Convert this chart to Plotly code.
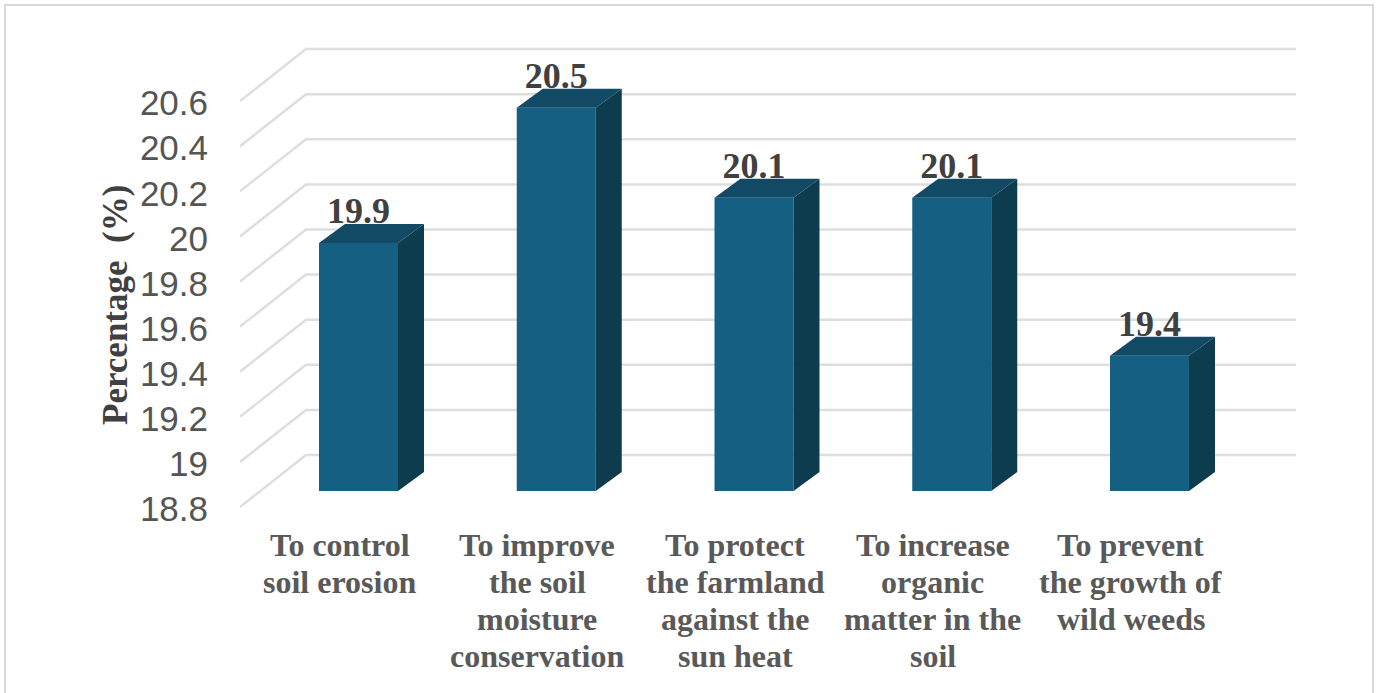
import plotly.graph_objects as go

categories = [
    ["To control", "soil erosion"],
    ["To improve", "the soil", "moisture", "conservation"],
    ["To protect", "the farmland", "against the", "sun heat"],
    ["To increase", "organic", "matter in the", "soil"],
    ["To prevent", "the growth of", "wild weeds"],
]
values = [19.9, 20.5, 20.1, 20.1, 19.4]
value_labels = ["19.9", "20.5", "20.1", "20.1", "19.4"]
y_ticks = [18.8, 19.0, 19.2, 19.4, 19.6, 19.8, 20.0, 20.2, 20.4, 20.6]
y_tick_labels = ["18.8", "19", "19.2", "19.4", "19.6", "19.8", "20", "20.2", "20.4", "20.6"]

W, H = 1380, 693
L, R, T, B = 240, 1296, 47, 527        # plot box in pixels
FLOOR_PX = 507                         # pixel of the front floor edge
PX_X = 197.75                          # pixels per category
PX_Y = 225.5                           # pixels per percentage unit
X0 = 358.5                             # pixel centre of the first bar
FLOOR = 18.8
BAR_W = 79 / PX_X
DEPTH_X, DEPTH_Y = 26 / PX_X, 19 / PX_Y
WALL_X, WALL_Y = 66 / PX_X, 52 / PX_Y
LIFT = 16 / PX_Y                       # bars stand this far above the front floor edge
LABEL_SHIFT = 19 / PX_X
TICK_SHIFT = 2 / PX_Y
VALUE_DROP = 10 / PX_Y
BELOW = (B - FLOOR_PX) / PX_Y

FRONT, TOP, SIDE = "#156082", "#124A65", "#0D3C4E"
GRID = "#DEDEDE"
positions = list(range(len(values)))
x_range = [(L - X0) / PX_X, (R - X0) / PX_X]
wall_range = [FLOOR - BELOW, FLOOR - BELOW + (B - T) / PX_Y]
bar_range = [wall_range[0] - LIFT, wall_range[1] - LIFT]

fig = go.Figure()

# Wall grid: side-wall diagonal, then the back-wall line
for t in y_ticks:
    fig.add_trace(go.Scatter(
        x=[x_range[0], x_range[0] + WALL_X, x_range[1]],
        y=[t, t + WALL_Y, t + WALL_Y],
        mode="lines", line=dict(color=GRID, width=2.5),
        hoverinfo="skip", showlegend=False, cliponaxis=False,
        xaxis="x", yaxis="y",
    ))

# Bars
fig.add_trace(go.Bar(
    x=positions, y=[v - FLOOR for v in values], base=FLOOR, width=BAR_W,
    marker=dict(color=FRONT, line=dict(width=0)), showlegend=False,
    xaxis="x", yaxis="y2",
))
for p, v in zip(positions, values):
    xl, xr = p - BAR_W / 2, p + BAR_W / 2
    fig.add_trace(go.Scatter(
        x=[xr, xr + DEPTH_X, xr + DEPTH_X, xr, xr],
        y=[FLOOR, FLOOR + DEPTH_Y, v + DEPTH_Y, v, FLOOR],
        mode="lines", fill="toself", fillcolor=SIDE, line=dict(width=0),
        hoverinfo="skip", showlegend=False, xaxis="x", yaxis="y2",
    ))
    fig.add_trace(go.Scatter(
        x=[xl, xl + DEPTH_X, xr + DEPTH_X, xr, xl],
        y=[v, v + DEPTH_Y, v + DEPTH_Y, v, v],
        mode="lines", fill="toself", fillcolor=TOP, line=dict(width=0),
        hoverinfo="skip", showlegend=False, xaxis="x", yaxis="y2",
    ))

# Value labels
fig.add_trace(go.Scatter(
    x=positions, y=[v + DEPTH_Y + VALUE_DROP for v in values], text=value_labels,
    mode="text", textposition="middle center",
    textfont=dict(family="Liberation Serif", size=36, color="#404040", weight="bold"),
    hoverinfo="skip", showlegend=False, cliponaxis=False, xaxis="x", yaxis="y2",
))

# Category labels, one annotation per line to hold the tight line spacing
notes = []
for p, lines in zip(positions, categories):
    for i, line in enumerate(lines):
        notes.append(dict(
            text=line, showarrow=False, xref="x", yref="paper",
            x=p - LABEL_SHIFT, y=0, xanchor="center", yanchor="middle",
            yshift=(B - 545) - 37 * i,
            font=dict(family="Liberation Serif", size=32, color="#595959", weight="bold"),
        ))
notes.append(dict(
    text="Percentage  (%)", textangle=-90, showarrow=False,
    xref="paper", yref="paper",
    x=(115 - L) / (R - L), y=(B - 305) / (B - T), xanchor="center", yanchor="middle",
    font=dict(family="Liberation Serif", size=35, color="#404040", weight="bold"),
))

fig.update_layout(
    width=W, height=H,
    margin=dict(l=L, r=W - R, t=T, b=H - B, pad=0),
    paper_bgcolor="white", plot_bgcolor="white",
    showlegend=False, hovermode=False,
    xaxis=dict(
        range=x_range, showgrid=False, zeroline=False, showline=False,
        showticklabels=False, ticks="",
    ),
    yaxis=dict(
        range=wall_range, showgrid=False, zeroline=False, showline=False,
        tickmode="array", tickvals=[t - TICK_SHIFT for t in y_ticks], ticktext=y_tick_labels,
        ticks="", ticklabelstandoff=31,
        tickfont=dict(family="Liberation Sans", size=35, color="#555555"),
    ),
    yaxis2=dict(
        range=bar_range, overlaying="y", showgrid=False, zeroline=False,
        showline=False, showticklabels=False, ticks="",
    ),
    shapes=[dict(
        type="rect", xref="paper", yref="paper", layer="below",
        x0=(5 - L) / (R - L), x1=(1373 - L) / (R - L),
        y0=(B - 720) / (B - T), y1=(B - 5) / (B - T),
        line=dict(color="#D9D9D9", width=2), fillcolor="rgba(0,0,0,0)",
    )],
    annotations=notes,
)

fig.write_html("out.html", config=dict(displayModeBar=False),
               post_script="document.body.style.margin='0';")
